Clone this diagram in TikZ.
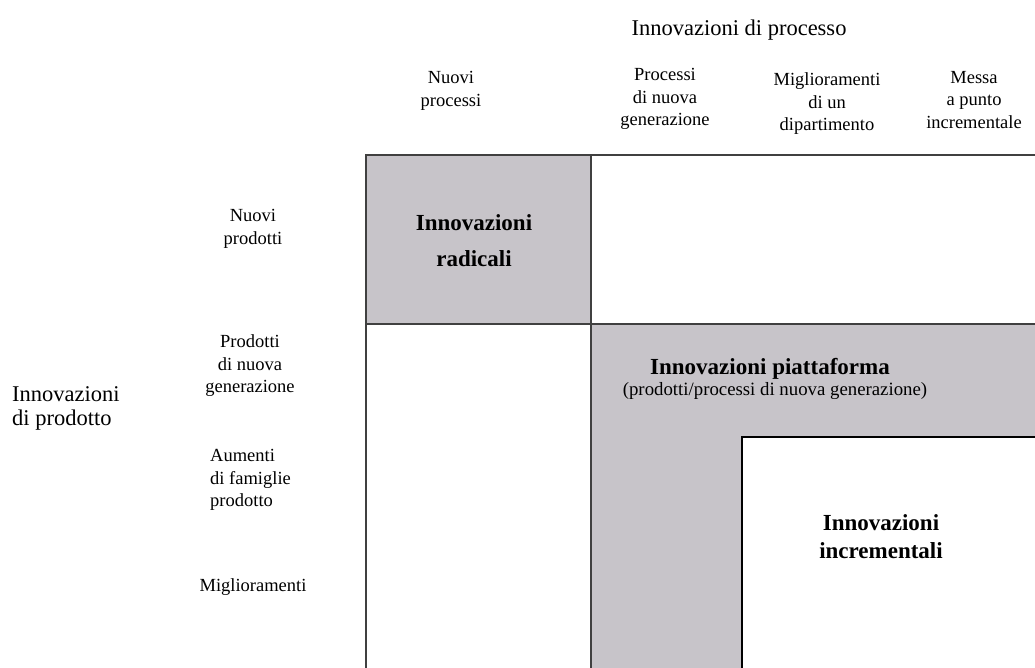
\documentclass[tikz,border=0pt]{standalone}
\usepackage{fontspec}
\setmainfont{Liberation Serif}
\definecolor{cellgray}{RGB}{199,196,201}
\definecolor{gridline}{RGB}{64,64,64}
\tikzset{
  small/.style={font=\fontsize{18.5}{22.5}\selectfont, align=center, inner sep=0pt},
  big/.style={font=\fontsize{22.5}{24}\selectfont, inner sep=0pt},
  boldlbl/.style={font=\fontsize{23}{36}\selectfont\bfseries, align=center, inner sep=0pt},
  gridl/.style={draw=gridline, line width=1.8pt},
  incbox/.style={draw=black, line width=2.6pt, fill=white}
}
\begin{document}
\begin{tikzpicture}[x=1pt,y=-1pt]
\useasboundingbox (0,0) rectangle (1035,667);
\clip (0,0) rectangle (1035,667);
% cells
\fill[cellgray] (366,155) rectangle (591,324);
\fill[cellgray] (591,324) rectangle (1040,672);
\draw[incbox] (742,437) rectangle (1045,680);
% grid lines
\draw[gridl] (366,672) -- (366,155) -- (1040,155);
\draw[gridl] (366,324) -- (1040,324);
\draw[gridl] (591,155) -- (591,672);
% headers
\node[big, anchor=center] (proc) at (739,30) {Innovazioni di processo};
\node[small] (c1) at (451,91) {Nuovi\\processi};
\node[small] (c2) at (665,99) {Processi\\di nuova\\generazione};
\node[small] (c3) at (827,104) {Miglioramenti\\di un\\dipartimento};
\node[small] (c4) at (974,100) {Messa\\a punto\\incrementale};
\node[small] (r1) at (253,229) {Nuovi\\prodotti};
\node[small] (r2) at (250,366) {Prodotti\\di nuova\\generazione};
\node[small, align=left, anchor=west] (r3) at (210,480) {Aumenti\\di famiglie\\prodotto};
\node[small] (r4) at (253,587) {Miglioramenti};
\node[big, align=left, anchor=west, font=\fontsize{22.5}{24}\selectfont] (prod) at (12,408) {Innovazioni\\di prodotto};
% cell labels
\node[boldlbl] (rad) at (474,241) {Innovazioni\\radicali};
\node[boldlbl] (pia) at (770,369) {Innovazioni piattaforma};
\node[small, font=\fontsize{18.8}{22}\selectfont] (piasub) at (775,391) {(prodotti/processi di nuova generazione)};
\node[boldlbl, font=\fontsize{23}{28}\selectfont\bfseries] (inc) at (881,537) {Innovazioni\\incrementali};
\end{tikzpicture}
\end{document}
